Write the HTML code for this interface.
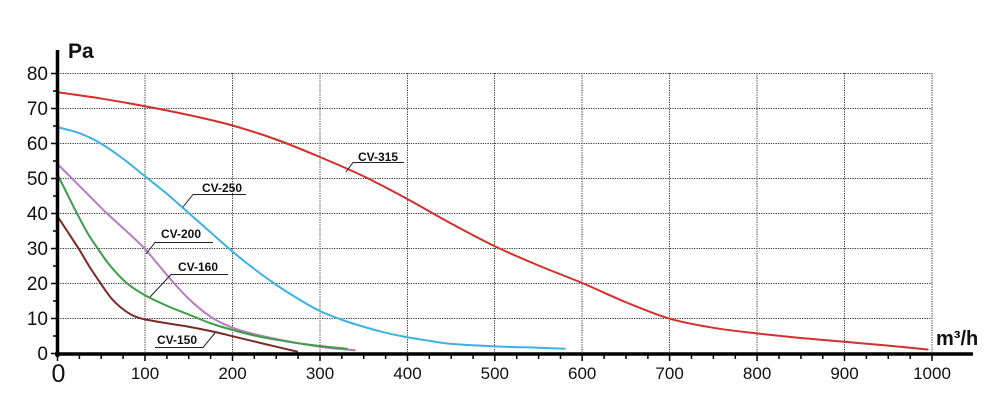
<!DOCTYPE html>
<html><head><meta charset="utf-8"><style>
html,body{margin:0;padding:0;background:#fff;}
svg{display:block;}
text{font-family:"Liberation Sans",Arial,sans-serif;fill:#111;}
</style></head><body>
<svg id="chart" width="1000" height="411" viewBox="0 0 1000 411" xmlns="http://www.w3.org/2000/svg">
<rect width="1000" height="411" fill="#fff"/>
<g stroke="#333" stroke-width="1" stroke-dasharray="1.2 1.2" fill="none">
<line x1="58" y1="73.5" x2="932" y2="73.5"/>
<line x1="58" y1="108.5" x2="932" y2="108.5"/>
<line x1="58" y1="143.5" x2="932" y2="143.5"/>
<line x1="58" y1="178.5" x2="932" y2="178.5"/>
<line x1="58" y1="213.5" x2="932" y2="213.5"/>
<line x1="58" y1="248.5" x2="932" y2="248.5"/>
<line x1="58" y1="283.5" x2="932" y2="283.5"/>
<line x1="58" y1="318.5" x2="932" y2="318.5"/>
<line x1="145" y1="73" x2="145" y2="352"/>
<line x1="232.5" y1="73" x2="232.5" y2="352"/>
<line x1="320" y1="73" x2="320" y2="352"/>
<line x1="407.5" y1="73" x2="407.5" y2="352"/>
<line x1="494.5" y1="73" x2="494.5" y2="352"/>
<line x1="582" y1="73" x2="582" y2="352"/>
<line x1="669.5" y1="73" x2="669.5" y2="352"/>
<line x1="757" y1="73" x2="757" y2="352"/>
<line x1="844.5" y1="73" x2="844.5" y2="352"/>
<line x1="932" y1="73" x2="932" y2="352"/>
</g>
<g id="curves" transform="translate(57.5,353) scale(0.8745,-3.5)" fill="none" stroke-width="2" stroke-linejoin="round" stroke-linecap="round">
<polyline class="smooth" vector-effect="non-scaling-stroke" stroke="#d2302c" points="0,74.5 50,72.7 100,70.5 150,68 200,65 250,61 300,56 350,50.5 400,44 450,37 500,30.5 550,25 600,20 650,14.5 700,9.8 750,7.2 800,5.6 850,4.3 900,3.2 950,2.1 995,1"/>
<polyline class="smooth" vector-effect="non-scaling-stroke" stroke="#3eb1e3" points="0,64.5 25,62.8 50,59.8 75,55.5 100,50.5 125,45.5 150,40 175,34.5 200,29 225,24 250,19.5 275,15.5 300,12 325,9.5 350,7.5 375,5.8 400,4.5 425,3.5 450,2.6 500,1.9 550,1.5 580,1.2"/>
<polyline class="smooth" vector-effect="non-scaling-stroke" stroke="#b77cc2" points="0,54 16,50 36,45 56,40 78,35 99,30 116,25 133,20 148,16 162,12.8 176,10.2 190,8.3 205,6.8 225,5.4 250,4 275,2.8 300,1.8 320,1.2 340,0.8"/>
<polyline class="smooth" vector-effect="non-scaling-stroke" stroke="#3f9c49" points="0,51 10,46 22,40 35,34 47,29.5 60,25 79,20 100,16.5 125,13.5 150,11 175,8.5 200,6.6 225,5 250,3.8 275,2.8 300,2 331,1.2"/>
<polyline class="smooth" vector-effect="non-scaling-stroke" stroke="#7c2a24" points="0,39 12,34.5 25,29.5 37,24.5 49,20 62,15.5 75,12.5 88,10.5 100,9.6 125,8.5 150,7.5 180,6 200,4.8 225,3.3 250,1.8 274,0.4"/>
</g>
<!-- axes -->
<line x1="57.5" y1="50" x2="57.5" y2="357" stroke="#000" stroke-width="3.5"/>
<line x1="55" y1="354" x2="973" y2="354" stroke="#000" stroke-width="3.5"/>
<g stroke="#000" stroke-width="1.5">
<line x1="51" y1="73.5" x2="57" y2="73.5"/><line x1="53" y1="91" x2="57" y2="91"/>
<line x1="51" y1="108.5" x2="57" y2="108.5"/><line x1="53" y1="126" x2="57" y2="126"/>
<line x1="51" y1="143.5" x2="57" y2="143.5"/><line x1="53" y1="161" x2="57" y2="161"/>
<line x1="51" y1="178.5" x2="57" y2="178.5"/><line x1="53" y1="196" x2="57" y2="196"/>
<line x1="51" y1="213.5" x2="57" y2="213.5"/><line x1="53" y1="231" x2="57" y2="231"/>
<line x1="51" y1="248.5" x2="57" y2="248.5"/><line x1="53" y1="266" x2="57" y2="266"/>
<line x1="51" y1="283.5" x2="57" y2="283.5"/><line x1="53" y1="301" x2="57" y2="301"/>
<line x1="51" y1="318.5" x2="57" y2="318.5"/><line x1="53" y1="336" x2="57" y2="336"/>
<line x1="51" y1="353.5" x2="57" y2="353.5"/>
</g>
<g stroke="#000" stroke-width="1.5">
<line x1="57.5" y1="355" x2="57.5" y2="361"/>
<line x1="79.4" y1="355" x2="79.4" y2="359"/><line x1="101.2" y1="355" x2="101.2" y2="359"/><line x1="123.1" y1="355" x2="123.1" y2="359"/>
<line x1="145" y1="355" x2="145" y2="361"/>
<line x1="166.9" y1="355" x2="166.9" y2="359"/><line x1="188.7" y1="355" x2="188.7" y2="359"/><line x1="210.6" y1="355" x2="210.6" y2="359"/>
<line x1="232.5" y1="355" x2="232.5" y2="361"/>
<line x1="254.3" y1="355" x2="254.3" y2="359"/><line x1="276.2" y1="355" x2="276.2" y2="359"/><line x1="298.1" y1="355" x2="298.1" y2="359"/>
<line x1="320" y1="355" x2="320" y2="361"/>
<line x1="341.8" y1="355" x2="341.8" y2="359"/><line x1="363.7" y1="355" x2="363.7" y2="359"/><line x1="385.6" y1="355" x2="385.6" y2="359"/>
<line x1="407.5" y1="355" x2="407.5" y2="361"/>
<line x1="429.3" y1="355" x2="429.3" y2="359"/><line x1="451.2" y1="355" x2="451.2" y2="359"/><line x1="473.1" y1="355" x2="473.1" y2="359"/>
<line x1="494.8" y1="355" x2="494.8" y2="361"/>
<line x1="516.7" y1="355" x2="516.7" y2="359"/><line x1="538.6" y1="355" x2="538.6" y2="359"/><line x1="560.5" y1="355" x2="560.5" y2="359"/>
<line x1="582.2" y1="355" x2="582.2" y2="361"/>
<line x1="604.1" y1="355" x2="604.1" y2="359"/><line x1="626" y1="355" x2="626" y2="359"/><line x1="647.9" y1="355" x2="647.9" y2="359"/>
<line x1="669.6" y1="355" x2="669.6" y2="361"/>
<line x1="691.5" y1="355" x2="691.5" y2="359"/><line x1="713.4" y1="355" x2="713.4" y2="359"/><line x1="735.3" y1="355" x2="735.3" y2="359"/>
<line x1="757.1" y1="355" x2="757.1" y2="361"/>
<line x1="779" y1="355" x2="779" y2="359"/><line x1="800.9" y1="355" x2="800.9" y2="359"/><line x1="822.8" y1="355" x2="822.8" y2="359"/>
<line x1="844.5" y1="355" x2="844.5" y2="361"/>
<line x1="866.4" y1="355" x2="866.4" y2="359"/><line x1="888.3" y1="355" x2="888.3" y2="359"/><line x1="910.2" y1="355" x2="910.2" y2="359"/>
<line x1="932" y1="355" x2="932" y2="361"/>
</g>
<!-- y labels -->
<g font-size="19" text-anchor="end">
<text x="48" y="80">80</text>
<text x="48" y="115">70</text>
<text x="48" y="150">60</text>
<text x="48" y="185">50</text>
<text x="48" y="220">40</text>
<text x="48" y="255">30</text>
<text x="48" y="290">20</text>
<text x="48" y="325">10</text>
<text x="48" y="360">0</text>
</g>
<!-- x labels -->
<text x="58.5" y="382" font-size="25" text-anchor="middle">0</text>
<g font-size="17" text-anchor="middle">
<text x="145" y="379">100</text>
<text x="232.5" y="379">200</text>
<text x="320" y="379">300</text>
<text x="407.5" y="379">400</text>
<text x="494.8" y="379">500</text>
<text x="582.2" y="379">600</text>
<text x="669.6" y="379">700</text>
<text x="757.1" y="379">800</text>
<text x="844.5" y="379">900</text>
<text x="932" y="379">1000</text>
</g>
<text x="68" y="58" font-size="21" font-weight="bold">Pa</text>
<text x="936" y="345" font-size="20" font-weight="bold">m³/h</text>
<!-- series labels -->
<g font-size="12" font-weight="bold">
<text x="358" y="161">CV-315</text>
<text x="202" y="192">CV-250</text>
<text x="161" y="238">CV-200</text>
<text x="178" y="271">CV-160</text>
<text x="157" y="344">CV-150</text>
</g>
<g stroke="#222" stroke-width="1" fill="none">
<polyline points="346,172 353,162.5 404,162.5"/>
<polyline points="183,207 193,194.5 246,194.5"/>
<polyline points="146,254 155,242.5 213,242.5"/>
<polyline points="150,297 171,274.5 228,274.5"/>
<polyline points="155,347.5 203,347.5 215,333"/>
</g>
</svg>
<script>
(function(){
  var NS="http://www.w3.org/2000/svg";
  var pls=document.querySelectorAll("polyline.smooth");
  for(var k=0;k<pls.length;k++){
    var pl=pls[k];
    var raw=pl.getAttribute("points").trim().split(/\s+/);
    var p=raw.map(function(s){var a=s.split(",");return [parseFloat(a[0]),parseFloat(a[1])];});
    var d="M"+p[0][0]+","+p[0][1];
    for(var i=0;i<p.length-1;i++){
      var p0=p[i-1]||p[i],p1=p[i],p2=p[i+1],p3=p[i+2]||p2;
      var c1x=p1[0]+(p2[0]-p0[0])/6,c1y=p1[1]+(p2[1]-p0[1])/6;
      var c2x=p2[0]-(p3[0]-p1[0])/6,c2y=p2[1]-(p3[1]-p1[1])/6;
      d+=" C"+c1x.toFixed(3)+","+c1y.toFixed(3)+" "+c2x.toFixed(3)+","+c2y.toFixed(3)+" "+p2[0]+","+p2[1];
    }
    var path=document.createElementNS(NS,"path");
    path.setAttribute("d",d);
    path.setAttribute("stroke",pl.getAttribute("stroke"));
    path.setAttribute("vector-effect","non-scaling-stroke");
    path.setAttribute("fill","none");
    pl.parentNode.replaceChild(path,pl);
  }
})();
</script>
</body></html>
